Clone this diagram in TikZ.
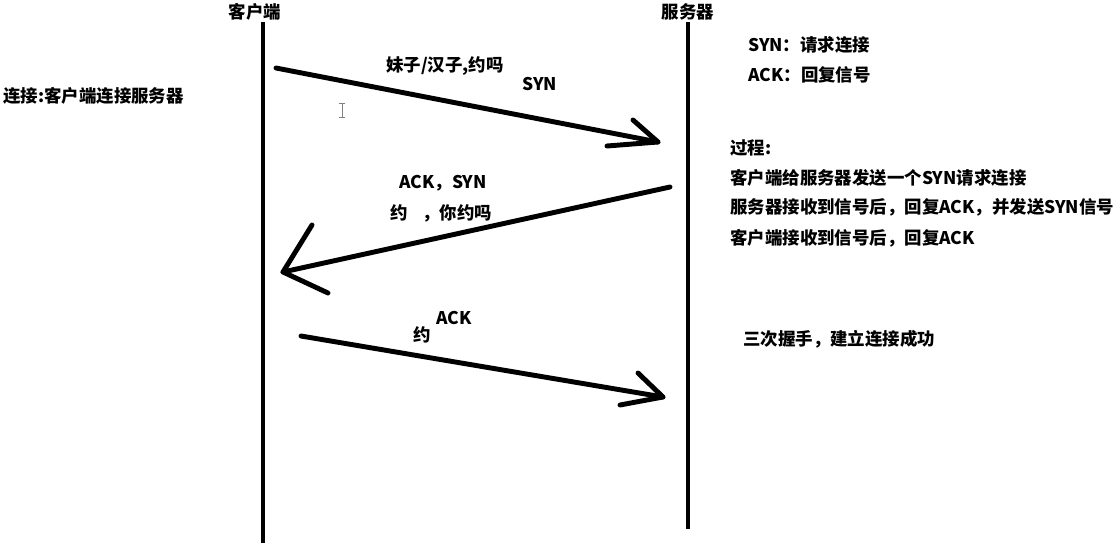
\documentclass[tikz,border=0pt]{standalone}
\usepackage{fontspec}
\setmainfont{Noto Sans CJK SC}
\usetikzlibrary{positioning}
\tikzset{
  lifeline/.style = {line width = 2.8pt},
  msgline/.style = {line width = 3.5pt, line cap = round, line join = round},
  lbl/.style = {font = \fontsize{12.4}{15}\selectfont\bfseries, inner sep = 0pt, anchor = west},
}
\begin{document}
\begin{tikzpicture}[x = 0.025cm, y = -0.025cm]
\useasboundingbox (0,0) rectangle (1116,548);
% the two parties
\node [lbl, anchor = center] (client) at (255,12) {客户端};
\node [lbl, anchor = center] (server) at (688,12) {服务器};
\coordinate (clienttop) at (263,22);
\coordinate (clientbot) at (263,543);
\coordinate (servertop) at (688,22);
\coordinate (serverbot) at (688,529);
\draw [lifeline] (clienttop) -- (clientbot);
\draw [lifeline] (servertop) -- (serverbot);
% first message
\coordinate (synstart) at (276,68);
\coordinate (syntip) at (658,142);
\coordinate (synbarbup) at (633,120);
\coordinate (synbarblow) at (607,146);
\draw [msgline] (synstart) -- (syntip);
\draw [msgline] (synbarbup) -- (syntip) -- (synbarblow);
% second message
\coordinate (ackstart) at (670,187);
\coordinate (acktip) at (283,272);
\coordinate (ackbarbup) at (312,225);
\coordinate (ackbarblow) at (328,293);
\draw [msgline] (ackstart) -- (acktip);
\draw [msgline] (ackbarbup) -- (acktip) -- (ackbarblow);
% third message
\coordinate (finstart) at (301,336);
\coordinate (fintip) at (663,397);
\coordinate (finbarbup) at (638,373);
\coordinate (finbarblow) at (620,405);
\draw [msgline] (finstart) -- (fintip);
\draw [msgline] (finbarbup) -- (fintip) -- (finbarblow);
% text cursor
\draw [gray, line width = 0.6pt] (342,103) -- (342,117) (339,103) -- (345,103) (339,117) -- (345,117);
% labels on the messages
\node [lbl] (intro) at (3,96) {连接:客户端连接服务器};
\node [lbl] (synask) at (386,66) {妹子/汉子,约吗};
\node [lbl] (synname) at (522,84) {SYN};
\node [lbl] (acksyn) at (399,183) {ACK，SYN};
\node [lbl] (ackask) at (390,213) {约\hspace{0.85em}，你约吗};
\node [lbl] (finname) at (436,318) {ACK};
\node [lbl] (finyes) at (413,335) {约};
% notes on the right
\node [lbl] (synnote) at (748,45) {SYN：请求连接};
\node [lbl] (acknote) at (748,75) {ACK：回复信号};
\node [lbl] (steps) at (730,148) {过程:};
\node [lbl] (stepone) at (730,178) {客户端给服务器发送一个SYN请求连接};
\node [lbl] (steptwo) at (730,207) {服务器接收到信号后，回复ACK，并发送SYN信号};
\node [lbl] (stepthree) at (730,238) {客户端接收到信号后，回复ACK};
\node [lbl] (done) at (743,339) {三次握手，建立连接成功};
\end{tikzpicture}
\end{document}
